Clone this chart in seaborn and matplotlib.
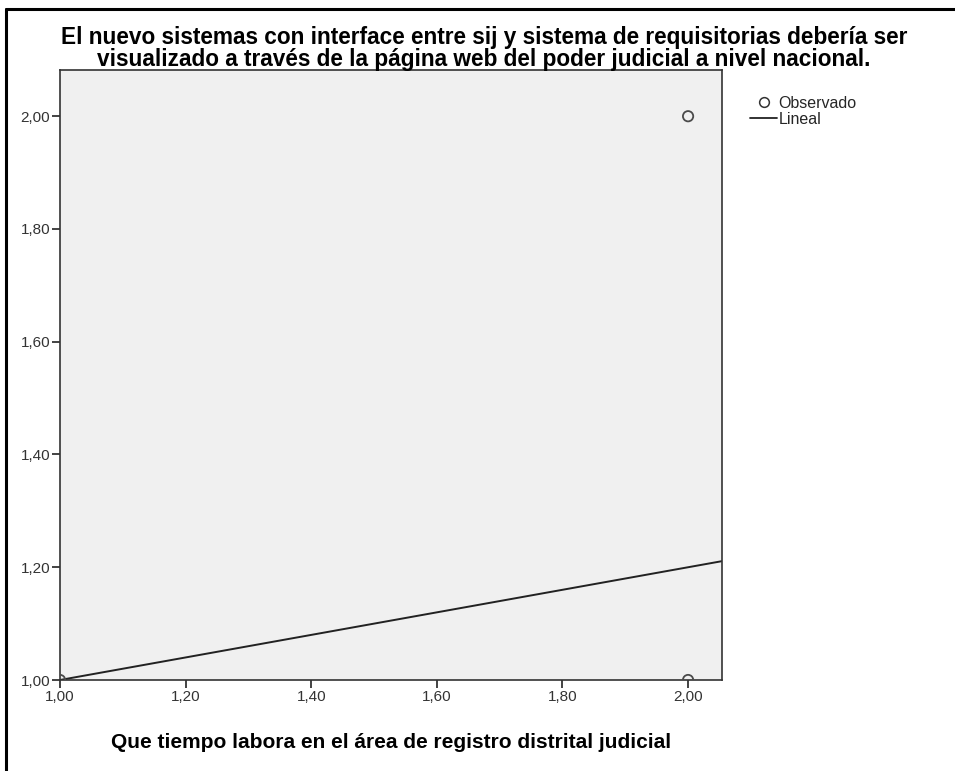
import numpy as np
import pandas as pd
import matplotlib.pyplot as plt
import seaborn as sns
from matplotlib.lines import Line2D
from matplotlib.ticker import FuncFormatter

# Datos observados (puntos visibles) y ajuste lineal
x_obs = [1.0, 2.0, 2.0]
y_obs = [1.0, 1.0, 2.0]
b0 = 0.80   # constante
b1 = 0.20   # pendiente

ticks = [1.0, 1.2, 1.4, 1.6, 1.8, 2.0]

titulo = ('El nuevo sistemas con interface entre sij y sistema de requisitorias debería ser\n'
          'visualizado a través de la página web del poder judicial a nivel nacional.')
xlabel = 'Que tiempo labora en el área de registro distrital judicial'

sns.set_style('white')
plt.rcParams['font.family'] = ['Liberation Sans', 'DejaVu Sans']

df = pd.DataFrame({'x': x_obs, 'y': y_obs})

fig = plt.figure(figsize=(9.55, 7.71), dpi=100)
ax = fig.add_axes([60/955, 1 - 680/771, (722 - 60)/955, (680 - 70)/771])
ax.set_facecolor('#f0f0f0')

sns.scatterplot(data=df, x='x', y='y', marker='o', s=55, facecolors='none',
                edgecolor='#4a4a4a', linewidth=1.3, ax=ax, zorder=3)
ax.axline((0, b0), slope=b1, color='#222222', linewidth=1.4, zorder=2)

ax.set_xlim(1.0, 2.054)
ax.set_ylim(1.0, 2.082)
ax.set_xticks(ticks)
ax.set_yticks(ticks)
fmt = FuncFormatter(lambda v, p: f'{v:.2f}'.replace('.', ','))
ax.xaxis.set_major_formatter(fmt)
ax.yaxis.set_major_formatter(fmt)
ax.tick_params(axis='both', direction='out', length=6, width=1.2, color='#222222',
               labelsize=11, labelcolor='#333333', pad=1, bottom=True, left=True)
for s in ax.spines.values():
    s.set_color('#333333')
    s.set_linewidth(1.2)

ax.set_xlabel(xlabel, fontsize=15, fontweight='bold', labelpad=21, color='black')
ax.set_ylabel('')

# titulo en dos lineas, muy juntas como en SPSS
fig.text(484/955, 1 - 71/771, titulo, ha='center', va='bottom', fontsize=16.3,
         fontweight='bold', color='black', linespacing=0.95)

handles = [Line2D([], [], marker='o', linestyle='none', markerfacecolor='none',
                  markeredgecolor='#333333', markersize=7, markeredgewidth=1.1),
           Line2D([], [], color='#222222', linewidth=1.3)]
fig.legend(handles, ['Observado', 'Lineal'], loc='upper left',
           bbox_to_anchor=(742/955, 1 - 88/771), frameon=False, fontsize=11.5,
           handlelength=1.7, handletextpad=0.1, labelspacing=0.05, borderpad=0)

# marco exterior (izquierda y arriba)
fig.add_artist(Line2D([6/955, 6/955], [0, 1 - 9/771], color='black', linewidth=2.2))
fig.add_artist(Line2D([6/955, 1], [1 - 9/771, 1 - 9/771], color='black', linewidth=2.2))

fig.savefig('out.png', dpi=100)
